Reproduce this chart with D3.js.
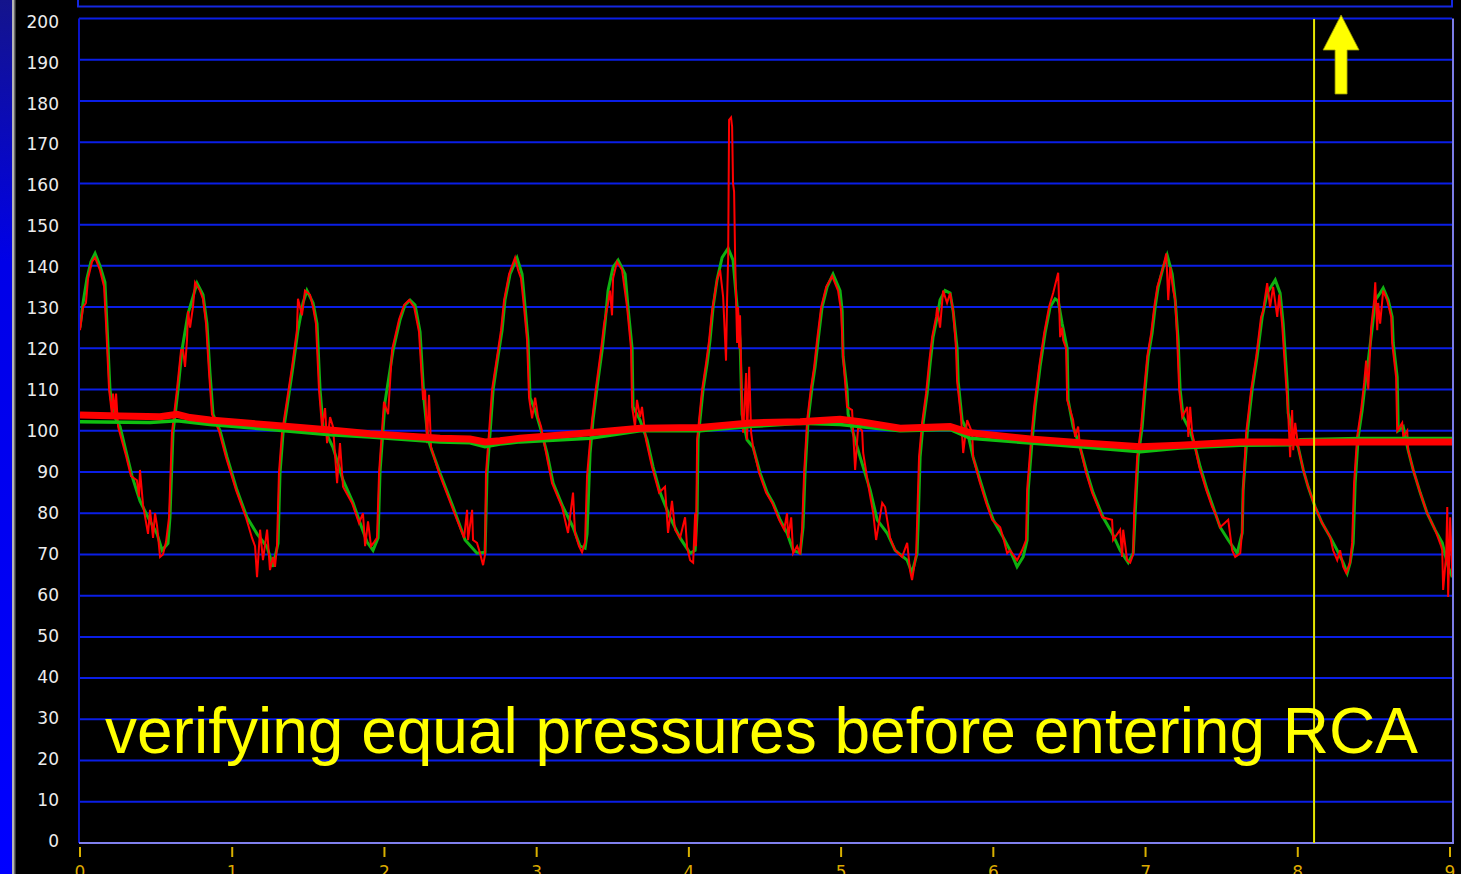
<!DOCTYPE html>
<html><head><meta charset="utf-8">
<script src="https://cdn.jsdelivr.net/npm/d3@7"></script>
<style>html,body{margin:0;padding:0;background:#000;overflow:hidden}svg{display:block}</style>
</head><body>
<svg id="c" width="1461" height="874"></svg>
<script>
// ---- DATA ----
const yTicks = [0,10,20,30,40,50,60,70,80,90,100,110,120,130,140,150,160,170,180,190,200];
const xTicks = [0,1,2,3,4,5,6,7,8,9];
const cursorTime = 8.107;
const annotation = "verifying equal pressures before entering RCA";
// Pa (green) pressure trace: [time s, mmHg]
const greenTrace = [[0,125],[0.020,131],[0.046,137],[0.072,141],[0.099,143],[0.131,140],[0.164,136],[0.177,126],[0.197,110],[0.217,104],[0.263,101],[0.309,94],[0.342,89],[0.394,83],[0.447,79],[0.506,75],[0.539,71],[0.578,72.7],[0.591,79],[0.611,99.5],[0.644,110],[0.670,119.6],[0.710,128.5],[0.742,132.4],[0.769,135.8],[0.808,133],[0.834,126],[0.854,114],[0.874,104],[0.920,100],[0.966,93.6],[1.031,85.6],[1.097,79],[1.163,75],[1.229,71.8],[1.268,67],[1.301,72.7],[1.314,89.7],[1.334,99.5],[1.367,107.5],[1.399,115.5],[1.432,124.4],[1.465,131],[1.491,134],[1.531,131],[1.557,126],[1.577,110],[1.597,101],[1.662,96],[1.728,88],[1.794,82.5],[1.840,77.6],[1.886,73],[1.925,71],[1.958,74],[1.971,90],[2.004,107],[2.057,119.6],[2.103,127],[2.135,130.5],[2.168,131.7],[2.201,130.5],[2.234,124],[2.260,107.5],[2.286,98],[2.313,95],[2.365,89.7],[2.451,81.5],[2.530,73.5],[2.608,70.3],[2.661,70.5],[2.674,89.7],[2.694,99.5],[2.714,110],[2.746,118],[2.773,124.4],[2.792,131.7],[2.825,138],[2.871,141.9],[2.904,138],[2.924,130],[2.943,122],[2.957,108],[2.990,105],[3.022,101],[3.068,94.6],[3.108,87.3],[3.173,81.5],[3.239,76.6],[3.285,72],[3.318,71.5],[3.331,75],[3.351,94.6],[3.370,102.6],[3.397,110.6],[3.430,119.6],[3.449,126],[3.469,134],[3.502,139.7],[3.535,141.4],[3.581,138],[3.600,130],[3.627,120],[3.633,105.8],[3.679,102.6],[3.725,97.8],[3.765,91.2],[3.811,85],[3.876,79],[3.942,74],[4.008,70.3],[4.041,71],[4.054,80],[4.060,97.8],[4.093,110],[4.120,116.4],[4.139,122],[4.159,130],[4.185,136.6],[4.218,142],[4.258,144.3],[4.290,141.4],[4.317,130],[4.336,122],[4.349,104],[4.382,97.8],[4.422,96],[4.468,89.7],[4.514,85],[4.553,82.5],[4.599,78.4],[4.645,75.2],[4.685,71],[4.731,70.3],[4.750,76.6],[4.763,89.7],[4.783,102.6],[4.809,110.6],[4.829,115.5],[4.849,122],[4.875,130],[4.908,134.9],[4.947,138],[4.993,134],[5.007,129],[5.013,118],[5.039,110],[5.046,104],[5.079,99.5],[5.125,93.6],[5.191,85.6],[5.237,78.4],[5.302,75.2],[5.355,71],[5.434,68.6],[5.466,65.5],[5.499,70.3],[5.506,77.6],[5.519,93.6],[5.539,101.9],[5.565,109],[5.585,116.4],[5.604,122.7],[5.631,127.6],[5.650,131.7],[5.683,134],[5.716,133.4],[5.736,129],[5.762,120],[5.769,112],[5.795,102.6],[5.828,100],[5.867,93.6],[5.913,88],[5.959,82.5],[5.999,78.4],[6.064,74.2],[6.110,71],[6.156,67],[6.196,69.4],[6.222,73.5],[6.229,85.6],[6.255,97.8],[6.275,105.8],[6.307,115.5],[6.340,123.7],[6.373,130],[6.406,132],[6.426,131.5],[6.452,126],[6.485,120],[6.491,107.5],[6.524,101],[6.570,96],[6.616,89.7],[6.655,85],[6.721,79],[6.780,75.2],[6.833,71],[6.886,68],[6.919,70.3],[6.932,80],[6.951,93.6],[6.978,101],[6.997,110],[7.017,118],[7.043,123.7],[7.063,130],[7.083,134.9],[7.116,139.7],[7.142,142.6],[7.175,138],[7.195,131.7],[7.214,122],[7.227,110],[7.247,103.3],[7.293,100],[7.326,96],[7.359,91.2],[7.405,85.6],[7.444,81.5],[7.490,76.6],[7.543,73.5],[7.602,70.3],[7.635,75.2],[7.641,85.6],[7.668,99.5],[7.700,110],[7.733,118],[7.766,127.6],[7.799,133.4],[7.852,136.6],[7.884,133.4],[7.904,126],[7.930,111.6],[7.937,104.3],[7.970,98.5],[8.003,96],[8.036,90.5],[8.068,86.4],[8.114,81.5],[8.160,77.6],[8.213,74.2],[8.259,71],[8.298,68],[8.325,65.5],[8.344,68],[8.364,72.8],[8.377,87.3],[8.397,98.5],[8.423,105],[8.443,111.6],[8.463,117],[8.489,125],[8.509,131.7],[8.541,133.4],[8.561,134.6],[8.594,131.7],[8.620,127.6],[8.627,121.3],[8.653,113],[8.660,100],[8.693,101],[8.725,95.3],[8.758,90.5],[8.804,85],[8.850,80],[8.903,75.9],[8.949,72.8],[8.988,67],[9.015,64.5]];
// Pd (red) pressure trace: [time s, mmHg]
const redTrace = [[0,124.4],[0.020,130],[0.039,131],[0.053,137],[0.079,141],[0.099,142],[0.131,139],[0.158,135],[0.171,126],[0.191,110],[0.210,104],[0.217,109],[0.230,104],[0.237,109],[0.250,101],[0.302,94],[0.335,89],[0.374,88],[0.388,84],[0.394,90.5],[0.414,82],[0.447,75],[0.460,80.8],[0.480,74],[0.493,80],[0.506,77],[0.526,69.4],[0.545,70],[0.565,73],[0.585,79],[0.604,99.5],[0.637,110],[0.664,119.6],[0.677,119.6],[0.690,115.5],[0.703,122],[0.710,129],[0.723,125],[0.742,130],[0.756,136],[0.788,134],[0.808,132],[0.828,126],[0.848,114],[0.867,104],[0.913,100],[0.959,93.6],[1.025,85.6],[1.090,79],[1.130,74],[1.150,72],[1.163,64.5],[1.183,76],[1.202,68.6],[1.229,76],[1.248,66.2],[1.268,69.4],[1.281,67],[1.294,72],[1.307,89.7],[1.327,99.5],[1.360,107.5],[1.393,115.5],[1.425,124.4],[1.432,132],[1.458,128],[1.478,134],[1.511,133],[1.531,130],[1.550,126],[1.570,110],[1.590,101],[1.610,105.5],[1.623,97],[1.643,103.3],[1.662,101],[1.689,87.3],[1.708,97],[1.728,86.4],[1.787,82.5],[1.833,77.6],[1.859,80],[1.873,72],[1.892,78],[1.912,72],[1.932,73],[1.951,74],[1.965,90],[1.997,107],[2.024,104],[2.050,119.6],[2.096,127],[2.129,130.5],[2.162,131.7],[2.195,130],[2.227,124],[2.254,107.5],[2.267,110],[2.280,97],[2.293,108.7],[2.306,96],[2.359,89.7],[2.444,81.5],[2.523,74],[2.543,80.8],[2.549,73.5],[2.576,80.8],[2.582,73.5],[2.608,72.8],[2.628,70.3],[2.648,67.4],[2.661,70],[2.667,89.7],[2.687,99.5],[2.707,110],[2.740,118],[2.766,124.4],[2.786,131.7],[2.819,138],[2.858,142],[2.878,139],[2.897,137],[2.917,130],[2.937,122],[2.950,108],[2.970,103],[2.990,108],[3.009,103.3],[3.029,101],[3.062,94.6],[3.101,87.3],[3.167,81.5],[3.206,75.2],[3.239,85],[3.252,75.2],[3.278,72],[3.298,70.5],[3.318,73],[3.331,89],[3.344,94.6],[3.364,102.6],[3.390,110.6],[3.423,119.6],[3.443,126],[3.469,131],[3.482,134],[3.495,128],[3.502,137],[3.528,141],[3.561,139],[3.594,130],[3.620,120],[3.627,105.8],[3.646,101],[3.659,107.5],[3.679,103.3],[3.692,105.8],[3.718,97.8],[3.758,91.2],[3.804,85],[3.843,86.4],[3.863,75.2],[3.889,83],[3.909,76],[3.942,74],[3.975,79],[3.988,71.8],[4.008,68.6],[4.028,68],[4.041,80],[4.047,72],[4.054,97.8],[4.087,110],[4.113,116.4],[4.133,122],[4.152,129],[4.185,136.6],[4.205,139],[4.225,132.4],[4.244,117],[4.251,131.7],[4.258,142],[4.264,175.4],[4.277,176],[4.284,173.7],[4.290,160],[4.297,158],[4.304,141.4],[4.317,121.3],[4.323,130],[4.330,120],[4.336,128],[4.349,104.3],[4.356,99.5],[4.376,114],[4.382,97.8],[4.396,115.5],[4.409,99.5],[4.422,96],[4.462,89.7],[4.507,85],[4.547,82.5],[4.593,78.4],[4.626,76],[4.645,80],[4.652,74],[4.672,79],[4.685,70.3],[4.711,72],[4.731,70],[4.744,76.6],[4.757,89.7],[4.777,102.6],[4.803,110.6],[4.823,115.5],[4.842,122],[4.869,130],[4.902,134.9],[4.941,137.5],[4.980,134],[5.000,129],[5.013,118],[5.039,105.8],[5.072,105],[5.092,90.5],[5.112,101],[5.138,100],[5.145,94.6],[5.184,85.6],[5.211,80],[5.230,73.5],[5.250,78],[5.270,82.5],[5.289,81.5],[5.322,74],[5.355,71],[5.401,69.4],[5.434,72.8],[5.453,66],[5.466,63.8],[5.493,70],[5.499,77.6],[5.512,93.6],[5.532,101.9],[5.558,109],[5.578,116.4],[5.598,122.7],[5.624,127.6],[5.631,130],[5.650,125],[5.670,134],[5.696,131],[5.716,133.4],[5.736,129],[5.755,120],[5.762,112],[5.788,103.3],[5.802,94.6],[5.828,102.6],[5.861,99.5],[5.867,93.6],[5.907,88],[5.953,82.5],[5.992,78.4],[6.045,76.6],[6.064,74.2],[6.091,70.3],[6.110,71],[6.156,68.6],[6.189,71],[6.215,73.5],[6.222,85.6],[6.248,97.8],[6.268,105.8],[6.301,115.5],[6.334,123.7],[6.366,130],[6.393,133.4],[6.426,138.3],[6.439,122.7],[6.452,125],[6.459,122],[6.478,120],[6.485,107.5],[6.524,102.6],[6.537,98.5],[6.557,101],[6.570,96],[6.610,89.7],[6.649,85],[6.715,79],[6.780,78.4],[6.787,73.5],[6.833,76],[6.846,69.4],[6.853,76],[6.879,68.6],[6.899,68],[6.919,70],[6.925,80],[6.945,93.6],[6.971,101],[6.991,110],[7.011,118],[7.037,123.7],[7.057,130],[7.077,134.9],[7.116,139.7],[7.136,143],[7.149,131.7],[7.162,139.7],[7.182,134],[7.195,131.7],[7.208,122],[7.221,110],[7.241,103.3],[7.274,105.8],[7.281,98.5],[7.293,105.8],[7.306,99.5],[7.326,96],[7.353,91.2],[7.399,85.6],[7.438,81.5],[7.458,80],[7.490,76.6],[7.543,78.4],[7.569,71],[7.589,69.4],[7.622,70.3],[7.635,76],[7.641,85.6],[7.661,99.5],[7.694,110],[7.727,118],[7.759,127.6],[7.772,129],[7.799,135.8],[7.818,130],[7.838,134.9],[7.865,127.6],[7.878,133],[7.897,126],[7.923,111.6],[7.937,104.3],[7.950,93.6],[7.963,105],[7.970,95.3],[7.983,101.9],[8.003,96],[8.036,90.5],[8.068,86.4],[8.114,81.5],[8.160,77.6],[8.213,74.2],[8.232,71],[8.259,68.6],[8.278,71],[8.298,67],[8.318,65.5],[8.344,68],[8.357,72.8],[8.370,87.3],[8.390,98.5],[8.416,105],[8.436,111.6],[8.449,117],[8.463,110],[8.482,125],[8.502,131.7],[8.509,136],[8.522,124.4],[8.528,131],[8.541,126],[8.561,134],[8.587,131.7],[8.614,127.6],[8.620,121.3],[8.646,113],[8.653,100],[8.686,101.9],[8.693,98.5],[8.719,100],[8.725,95.3],[8.758,90.5],[8.804,85],[8.850,80],[8.903,75.9],[8.942,72],[8.949,71],[8.955,61.4],[8.975,70],[8.982,81.5],[8.988,59.7],[9.001,79],[9.015,64.5]];
// running means
const greenMean = [[0,102.2],[0.460,102],[0.637,102.4],[0.854,101.5],[1.248,100.3],[1.643,99],[1.905,98.5],[2.365,97.3],[2.562,97.1],[2.661,96.1],[2.759,96.8],[2.891,97.3],[3.351,98.2],[3.679,100],[4.073,100],[4.402,101],[4.731,101.8],[4.993,101.5],[5.388,100],[5.716,100.3],[5.848,98.2],[6.242,97],[6.570,96.1],[6.965,94.9],[7.227,95.8],[7.622,96.5],[7.950,96.6],[8.016,97.8],[8.410,98.1],[9.015,98.1]];
const redMean = [[0,103.8],[0.263,103.6],[0.526,103.4],[0.637,104],[0.723,103.2],[0.854,102.6],[1.248,101.4],[1.643,100.2],[1.905,99.3],[2.365,98.2],[2.562,98.0],[2.661,97.3],[2.759,97.6],[2.891,98.2],[3.351,99.5],[3.679,100.6],[4.073,100.8],[4.402,101.9],[4.731,102.2],[4.993,102.8],[5.125,102.2],[5.388,100.6],[5.716,101.0],[5.848,99.5],[6.242,98.0],[6.570,97.1],[6.965,96.1],[7.227,96.5],[7.622,97.3],[8.016,97.2],[8.410,97.3],[9.015,97.3]];

// ---- LAYOUT ----
const svg = d3.select("#c");
const W = 1461, H = 874;
const x = d3.scaleLinear().domain([0, 9]).range([80, 1450]);
const y = d3.scaleLinear().domain([0, 200]).range([843, 18.5]);
const yLab = d3.scaleLinear().domain([0, 200]).range([840.5, 21.5]);
const plotL = 79, plotR = 1453, plotT = 18.5, plotB = 843;

// background
svg.append("rect").attr("width", W).attr("height", H).attr("fill", "#000");
const defs = svg.append("defs");
const lg = defs.append("linearGradient").attr("id","lstrip").attr("x1",0).attr("y1",0).attr("x2",0).attr("y2",1);
lg.append("stop").attr("offset","0").attr("stop-color","#14148c");
lg.append("stop").attr("offset","0.3").attr("stop-color","#0000e8");
lg.append("stop").attr("offset","1").attr("stop-color","#0000ff");
svg.append("rect").attr("x",0).attr("y",0).attr("width",12).attr("height",H).attr("fill","url(#lstrip)");
svg.append("rect").attr("x",12).attr("y",0).attr("width",2).attr("height",H).attr("fill","#b4b4b4");
svg.append("rect").attr("x",14).attr("y",0).attr("width",1.5).attr("height",H).attr("fill","#6a6a6a");

// top panel frame
svg.append("path").attr("d", `M78,-2 V6.5 H1452 V-2`).attr("fill","none").attr("stroke","#1428e0").attr("stroke-width",2);

defs.append("clipPath").attr("id","plotclip").append("rect")
  .attr("x", plotL+1).attr("y", 0).attr("width", plotR - plotL - 2).attr("height", plotB);

// gridlines
svg.append("g").selectAll("line").data(yTicks.filter(v => v > 0)).join("line")
  .attr("x1", plotL).attr("x2", plotR - 1)
  .attr("y1", d => y(d)).attr("y2", d => y(d))
  .attr("stroke", "#0a1ee6").attr("stroke-width", 2);

// left border
svg.append("line").attr("x1",plotL).attr("x2",plotL).attr("y1",plotT).attr("y2",plotB)
  .attr("stroke","#0a14c8").attr("stroke-width",2);
// right border
svg.append("line").attr("x1",plotR).attr("x2",plotR).attr("y1",plotT).attr("y2",plotB)
  .attr("stroke","#7b7be6").attr("stroke-width",2);

// y labels
svg.append("g").selectAll("text").data(yTicks).join("text")
  .attr("x", 59).attr("y", d => yLab(d)).attr("dy", "0.36em")
  .attr("text-anchor", "end")
  .attr("font-family", "'DejaVu Sans', Verdana, sans-serif").attr("font-size", 17)
  .attr("fill", "#ececec").text(d => d);

// traces
const line = d3.line().x(d => x(d[0])).y(d => y(d[1]));
const traces = svg.append("g").attr("clip-path","url(#plotclip)");
traces.append("path").datum(greenTrace).attr("d", line).attr("fill","none")
  .attr("stroke","#10b010").attr("stroke-width",3).attr("stroke-linejoin","miter");
traces.append("path").datum(redTrace).attr("d", line).attr("fill","none")
  .attr("stroke","#ff0000").attr("stroke-width",2).attr("stroke-linejoin","miter");
traces.append("path").datum(greenMean).attr("d", line).attr("fill","none")
  .attr("stroke","#10c010").attr("stroke-width",3.5);
traces.append("path").datum(redMean).attr("d", line).attr("fill","none")
  .attr("stroke","#ff0000").attr("stroke-width",7);

// bottom axis line
svg.append("line").attr("x1",plotL).attr("x2",plotR+1).attr("y1",plotB).attr("y2",plotB)
  .attr("stroke","#8080ee").attr("stroke-width",2);

// x ticks
const xt = svg.append("g");
xt.selectAll("line").data(xTicks).join("line")
  .attr("x1", d => x(d)).attr("x2", d => x(d)).attr("y1", 847).attr("y2", 857)
  .attr("stroke", "#d8b000").attr("stroke-width", 2);
xt.selectAll("text").data(xTicks).join("text")
  .attr("x", d => x(d)).attr("y", 878).attr("text-anchor","middle")
  .attr("font-family", "'DejaVu Sans', Verdana, sans-serif").attr("font-size", 17)
  .attr("fill", "#dcaa00").text(d => d);

// cursor line
svg.append("line").attr("x1", x(cursorTime)).attr("x2", x(cursorTime)).attr("y1", 19).attr("y2", plotB)
  .attr("stroke", "#e6e600").attr("stroke-width", 2);

// arrow annotation
const ax = x(cursorTime) + 27;
svg.append("path")
  .attr("d", `M${ax},15 L${ax+18},50 L${ax+6},50 L${ax+6},94 L${ax-6},94 L${ax-6},50 L${ax-18},50 Z`)
  .attr("fill", "#ffff00").attr("stroke", "#9a9a00").attr("stroke-width", 0.8);

// annotation text
svg.append("text").attr("x", 105).attr("y", 753)
  .attr("font-family", "'Liberation Sans', Arial, sans-serif").attr("font-size", 64)
  .attr("textLength", 1313).attr("lengthAdjust", "spacingAndGlyphs")
  .attr("fill", "#ffff00").text(annotation);
</script>
</body></html>
